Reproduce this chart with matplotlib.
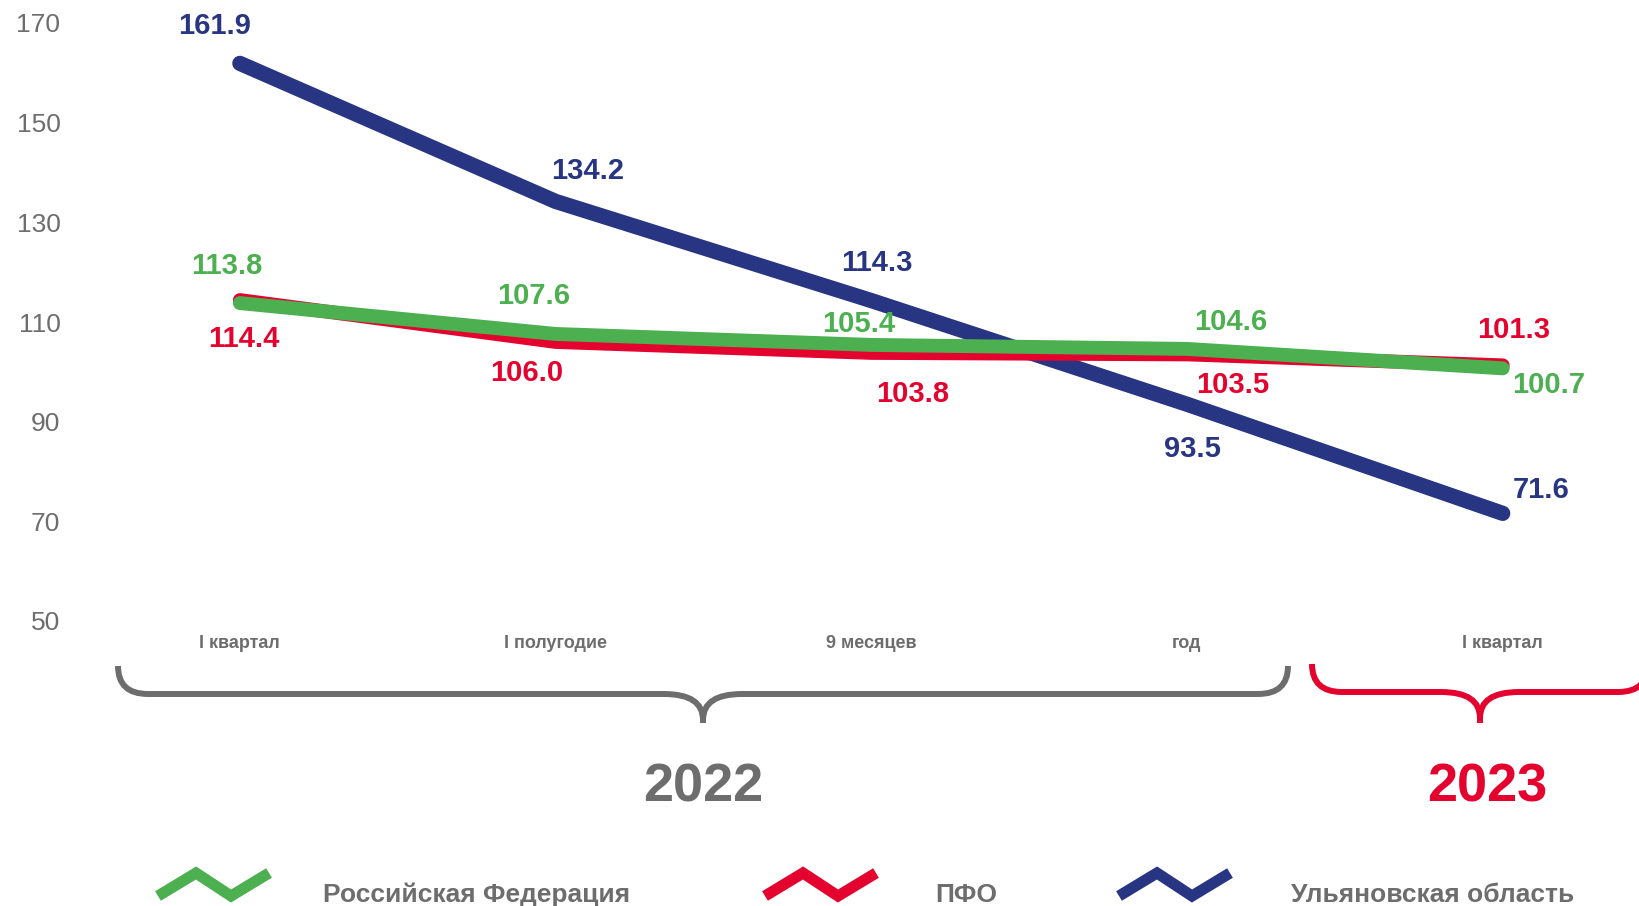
import numpy as np
import matplotlib
matplotlib.use("Agg")
import matplotlib.pyplot as plt
from matplotlib.path import Path
from matplotlib.patches import PathPatch

plt.rcParams['font.family'] = ['Liberation Sans', 'DejaVu Sans']

# data
periods = ['I квартал', 'I полугодие', '9 месяцев', 'год', 'I квартал']
series_names = ['Российская Федерация', 'ПФО', 'Ульяновская область']
rf = [113.8, 107.6, 105.4, 104.6, 100.7]
pfo = [114.4, 106.0, 103.8, 103.5, 101.3]
uo = [161.9, 134.2, 114.3, 93.5, 71.6]
yticks = [50, 70, 90, 110, 130, 150, 170]
years = ['2022', '2023']

GREEN = '#4caf50'
RED = '#e4032e'
BLUE = '#283583'
GRAY = '#6d6d6d'

# label offsets in pixels (dx, dy downwards)
off_uo = [(-25, -39), (32, -32), (6, -40), (5, 43), (38, -25)]
off_rf = [(-13, -39), (-22, -40), (-13, -23), (44, -29), (46, 15)]
off_pfo = [(4, 37), (-29, 29), (41, 39), (46, 29), (11, -37)]

W, H = 1640, 906
fig = plt.figure(figsize=(W / 100, H / 100), dpi=100)
ax = fig.add_axes([82 / W, 1 - 621 / H, (1629 - 82) / W, (621 - 23) / H])

x = np.arange(len(periods))
ax.plot(x, uo, color=BLUE, lw=11, solid_capstyle='round', zorder=2)
ax.plot(x, pfo, color=RED, lw=10, solid_capstyle='round', zorder=3)
ax.plot(x, rf, color=GREEN, lw=10, solid_capstyle='round', zorder=4)

for vals, offs, col in [(uo, off_uo, BLUE), (rf, off_rf, GREEN), (pfo, off_pfo, RED)]:
    for xi, v, (dx, dy) in zip(x, vals, offs):
        ax.annotate(f'{v:.1f}', (xi, v), xytext=(dx, -(dy + 10)), textcoords='offset pixels',
                    ha='center', va='baseline', fontsize=21, fontweight='bold', color=col,
                    annotation_clip=False, zorder=5)

ax.set_xlim(-0.5, 4.4)
ax.set_ylim(50, 170)
ax.set_yticks(yticks)
ax.set_yticklabels([str(t) for t in yticks], fontsize=19, color=GRAY)
ax.set_xticks(x)
ax.set_xticklabels(periods, fontsize=13, fontweight='bold', color=GRAY)
ax.tick_params(axis='y', length=0, pad=15.5)
ax.tick_params(axis='x', length=0, pad=10)
for s in ax.spines.values():
    s.set_visible(False)

# overlay for braces, year labels and legend (pixel coords)
ov = fig.add_axes([0, 0, 1, 1])
ov.set_xlim(0, W)
ov.set_ylim(H, 0)
ov.axis('off')


def brace(xl, xr, xt, top, mid, tip, r, color):
    verts = [(xl, top), (xl, mid), (xl + r, mid), (xt - 39, mid), (xt, mid), (xt, mid + 26), (xt, tip)]
    codes = [Path.MOVETO, Path.CURVE3, Path.CURVE3, Path.LINETO, Path.CURVE3, Path.CURVE3, Path.LINETO]
    ov.add_patch(PathPatch(Path(verts, codes), fill=False, ec=color, lw=4.3, capstyle='butt'))
    verts = [(xt, mid + 26), (xt, mid), (xt + 39, mid), (xr - r, mid), (xr, mid), (xr, top)]
    codes = [Path.MOVETO, Path.CURVE3, Path.CURVE3, Path.LINETO, Path.CURVE3, Path.CURVE3]
    ov.add_patch(PathPatch(Path(verts, codes), fill=False, ec=color, lw=4.3, capstyle='butt'))


brace(118, 1288, 703, 666, 694, 723, 30, GRAY)
brace(1312, 1648, 1480, 664, 692, 723, 30, RED)

ov.text(703, 802, years[0], ha='center', va='baseline', fontsize=39, fontweight='bold', color=GRAY)
ov.text(1487, 802, years[1], ha='center', va='baseline', fontsize=39, fontweight='bold', color=RED)

# legend
for x0, tx, col, name in [(158, 323, GREEN, series_names[0]), (765, 935, RED, series_names[1]),
                          (1119, 1291, BLUE, series_names[2])]:
    ov.plot([x0, x0 + 38, x0 + 73, x0 + 111], [896, 873, 896, 873], color=col, lw=8,
            solid_capstyle='butt', solid_joinstyle='miter')
    ov.text(tx, 902, name, ha='left', va='baseline', fontsize=19, fontweight='bold', color=GRAY)

fig.savefig('out.png', dpi=100)
